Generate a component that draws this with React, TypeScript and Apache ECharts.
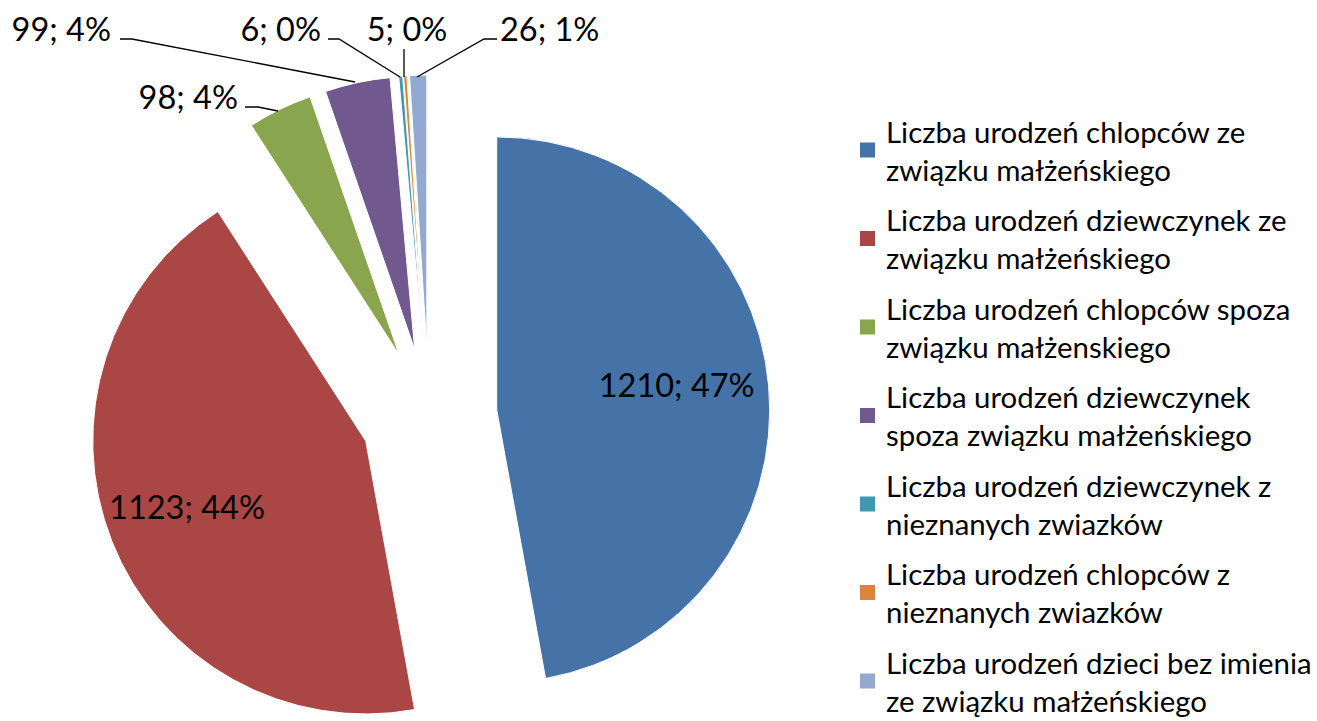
import React, { useEffect, useRef } from "react";
import * as echarts from "echarts";

const categories: string[] = [
  "Liczba urodzeń chlopców ze związku małżeńskiego",
  "Liczba urodzeń dziewczynek ze związku małżeńskiego",
  "Liczba urodzeń chlopców spoza związku małżenskiego",
  "Liczba urodzeń dziewczynek spoza związku małżeńskiego",
  "Liczba urodzeń dziewczynek z nieznanych zwiazków",
  "Liczba urodzeń chlopców z nieznanych zwiazków",
  "Liczba urodzeń dzieci bez imienia ze związku małżeńskiego",
];

const legendLines: string[] = [
  "Liczba urodzeń chlopców ze\nzwiązku małżeńskiego",
  "Liczba urodzeń dziewczynek ze\nzwiązku małżeńskiego",
  "Liczba urodzeń chlopców spoza\nzwiązku małżenskiego",
  "Liczba urodzeń dziewczynek\nspoza związku małżeńskiego",
  "Liczba urodzeń dziewczynek z\nnieznanych zwiazków",
  "Liczba urodzeń chlopców z\nnieznanych zwiazków",
  "Liczba urodzeń dzieci bez imienia\nze związku małżeńskiego",
];

const values: number[] = [1210, 1123, 98, 99, 6, 5, 26];

const colors: string[] = [
  "#4572A7",
  "#AA4643",
  "#89A54E",
  "#71588F",
  "#4198AF",
  "#DB843D",
  "#93A9CF",
];

// label placement (layout only)
const labelSpots: any[] = [
  { dx: 41, dy: -13 },
  { dx: -49, dy: 14 },
  { x: 238, y: 96, align: "right", line: [[278, 111], [258, 107], [245, 107]] },
  { x: 111, y: 28, align: "right", line: [[355, 82], [132, 39], [120, 39]] },
  { x: 321, y: 28, align: "right", line: [[400, 77], [339, 39], [328, 39]] },
  { x: 407, y: 28, align: "center", line: [[404, 77], [404, 63], [404, 49]] },
  { x: 500, y: 28, align: "left", line: [[417, 77], [484, 39], [497, 39]] },
];

const CENTER = [429, 416];
const RADIUS = 273;
const labelFont = { fontFamily: "Lato", fontSize: 32.5, color: "#000" };

export default function App() {
  const ref = useRef<HTMLDivElement>(null);
  useEffect(() => {
    if (!ref.current) return;
    const chart = echarts.init(ref.current, undefined, { renderer: "svg" });

    const slices = categories.map((name, i) => ({
      name,
      value: values[i],
      selected: true,
      itemStyle: { color: colors[i] },
      label: { show: i < 2, position: "inside" },
      labelLine: { show: false },
    }));

    const outerLabels = categories.map((name, i) => ({
      name,
      value: values[i],
      itemStyle: { color: "rgba(0,0,0,0)", borderWidth: 0 },
      label: { show: i >= 2, position: "outside" },
      labelLine: { show: i >= 2 },
    }));

    chart.setOption({
      animation: false,
      backgroundColor: "#ffffff",
      color: colors,
      legend: {
        orient: "vertical",
        left: 858,
        top: 93,
        height: 1200,
        padding: 0,
        itemWidth: 17,
        itemHeight: 17,
        itemGap: -25.5,
        icon: "rect",
        selectedMode: false,
        data: categories.map((name, i) => ({
          name,
          itemStyle: { color: colors[i] },
        })),
        formatter: (name: string) => legendLines[categories.indexOf(name)],
        textStyle: {
          fontFamily: "Lato",
          fontSize: 29.4,
          lineHeight: 38,
          color: "#000",
          padding: [38, 0, 0, 5],
        },
      },
      series: [
        {
          type: "pie",
          center: CENTER,
          radius: RADIUS,
          startAngle: 90,
          clockwise: true,
          selectedMode: "multiple",
          selectedOffset: 68,
          avoidLabelOverlap: false,
          percentPrecision: 0,
          itemStyle: { borderColor: "#fff", borderWidth: 1 },
          select: { itemStyle: { borderColor: "#fff", borderWidth: 1 } },
          emphasis: { disabled: true },
          label: { formatter: "{c}; {d}%", ...labelFont },
          labelLayout: (p: any) => {
            const s = labelSpots[p.dataIndex];
            return { dx: s.dx || 0, dy: s.dy || 0 };
          },
          data: slices,
        },
        {
          type: "pie",
          center: CENTER,
          radius: RADIUS,
          startAngle: 90,
          clockwise: true,
          silent: true,
          selectedMode: false,
          avoidLabelOverlap: false,
          percentPrecision: 0,
          emphasis: { disabled: true },
          z: 3,
          label: { formatter: "{c}; {d}%", ...labelFont },
          labelLine: {
            lineStyle: { color: "#000", width: 1.3 },
          },
          labelLayout: (p: any) => {
            const s = labelSpots[p.dataIndex];
            if (s.x === undefined) return {};
            return {
              x: s.x,
              y: s.y,
              align: s.align,
              verticalAlign: "middle",
              labelLinePoints: s.line,
            };
          },
          data: outerLabels,
        },
      ],
    });
    return () => chart.dispose();
  }, []);
  return (
    <div
      ref={ref}
      style={{ position: "absolute", left: 0, top: 0, width: 1317, height: 721 }}
    />
  );
}
